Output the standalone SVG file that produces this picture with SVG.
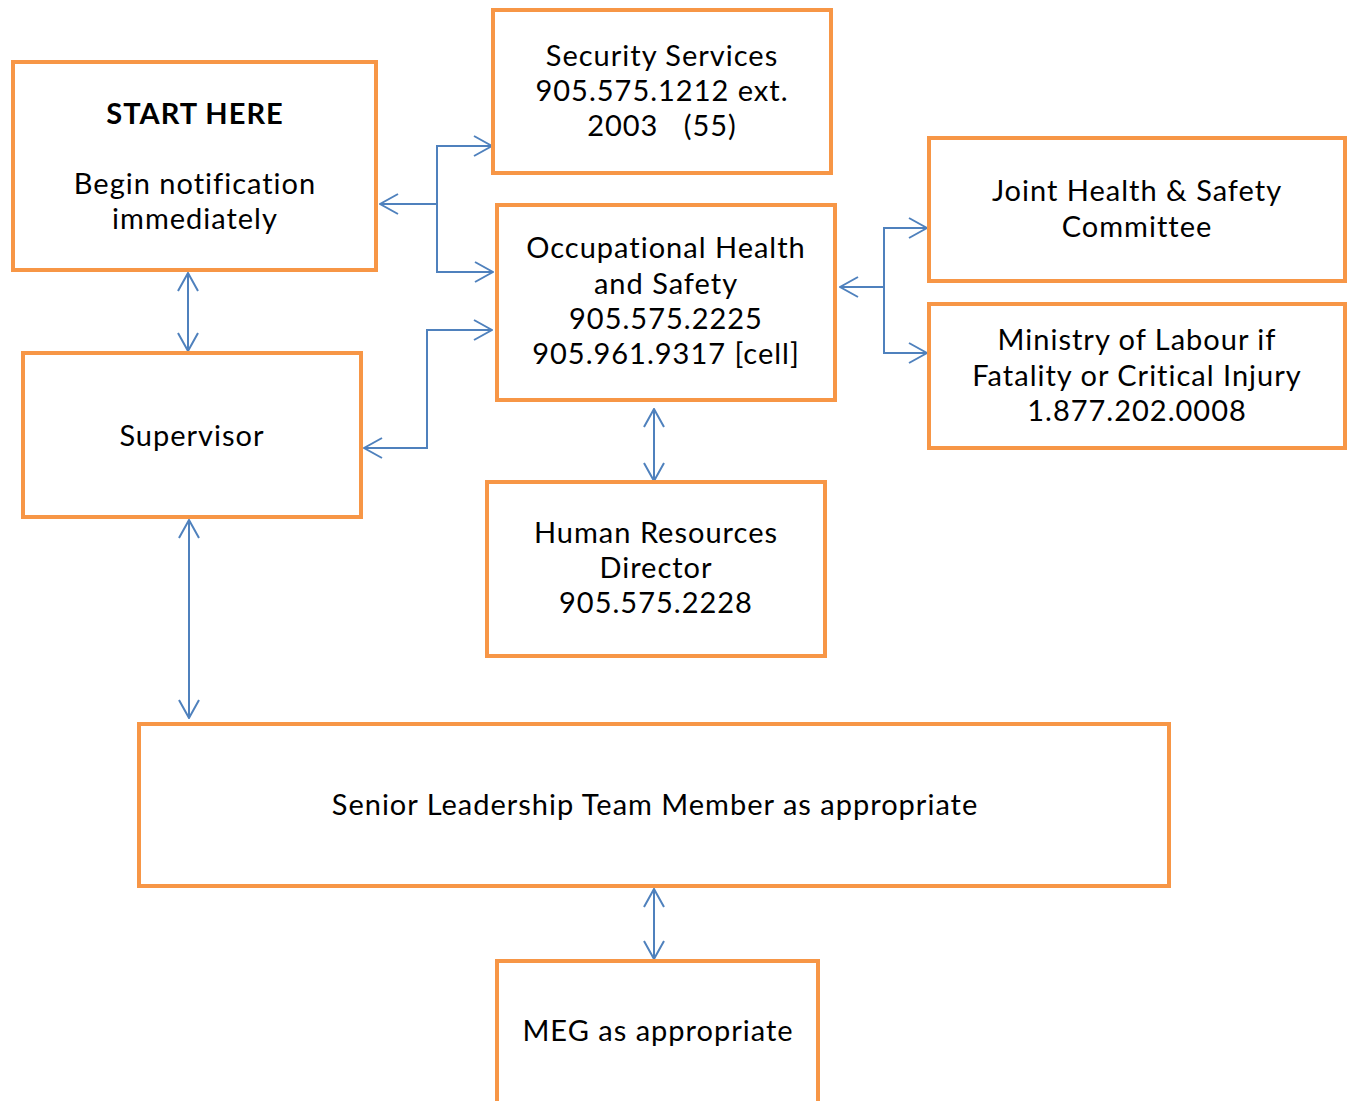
<svg xmlns="http://www.w3.org/2000/svg" width="1353" height="1101" viewBox="0 0 1353 1101">
<defs>
<style>
.box{fill:#fff;stroke:#F79646;stroke-width:4}
.t{font-family:Lato,"Noto Sans",sans-serif;font-size:29px;letter-spacing:1px;fill:#000;text-anchor:middle}
.b{font-weight:bold}
.c{fill:none;stroke:#4F81BD;stroke-width:2}
</style>
<marker id="a" viewBox="0 0 20 24" refX="19" refY="12" markerWidth="20" markerHeight="24" markerUnits="userSpaceOnUse" orient="auto-start-reverse">
<path d="M1,2 L19,12 L1,22" fill="none" stroke="#4F81BD" stroke-width="2"/>
</marker>
</defs>
<rect width="1353" height="1101" fill="#fff"/>
<g id="connectors">
<path class="c" d="M437,204 H380" marker-end="url(#a)"/>
<path class="c" d="M437,204 V146 H492" marker-end="url(#a)"/>
<path class="c" d="M437,204 V272 H493" marker-end="url(#a)"/>
<path class="c" d="M364,448 H427 V330 H492" marker-start="url(#a)" marker-end="url(#a)"/>
<path class="c" d="M884,287 H840" marker-end="url(#a)"/>
<path class="c" d="M884,287 V228 H927" marker-end="url(#a)"/>
<path class="c" d="M884,287 V353 H927" marker-end="url(#a)"/>
<path class="c" d="M188,273 V351" marker-start="url(#a)" marker-end="url(#a)"/>
<path class="c" d="M654,409 V481" marker-start="url(#a)" marker-end="url(#a)"/>
<path class="c" d="M189,520 V718" marker-start="url(#a)" marker-end="url(#a)"/>
<path class="c" d="M654,889 V959" marker-start="url(#a)" marker-end="url(#a)"/>
</g>
<g id="start">
<rect class="box" x="13" y="62" width="363" height="208"/>
<text class="t b" x="195" y="124">START HERE</text>
<text class="t" x="195" y="194">Begin notification</text>
<text class="t" x="195" y="229">immediately</text>
</g>
<g id="security">
<rect class="box" x="493" y="10" width="338" height="163"/>
<text class="t" x="662" y="66">Security Services</text>
<text class="t" x="662" y="101">905.575.1212 ext.</text>
<text class="t" x="662" y="136" xml:space="preserve">2003   (55)</text>
</g>
<g id="ohs">
<rect class="box" x="497" y="205" width="338" height="195"/>
<text class="t" x="666" y="258">Occupational Health</text>
<text class="t" x="666" y="294">and Safety</text>
<text class="t" x="666" y="329">905.575.2225</text>
<text class="t" x="666" y="364">905.961.9317 [cell]</text>
</g>
<g id="joint">
<rect class="box" x="929" y="138" width="416" height="143"/>
<text class="t" x="1137" y="201">Joint Health &amp; Safety</text>
<text class="t" x="1137" y="237">Committee</text>
</g>
<g id="ministry">
<rect class="box" x="929" y="304" width="416" height="144"/>
<text class="t" x="1137" y="350">Ministry of Labour if</text>
<text class="t" x="1137" y="386">Fatality or Critical Injury</text>
<text class="t" x="1137" y="421">1.877.202.0008</text>
</g>
<g id="supervisor">
<rect class="box" x="23" y="353" width="338" height="164"/>
<text class="t" x="192" y="446">Supervisor</text>
</g>
<g id="hr">
<rect class="box" x="487" y="482" width="338" height="174"/>
<text class="t" x="656" y="543">Human Resources</text>
<text class="t" x="656" y="578">Director</text>
<text class="t" x="656" y="613">905.575.2228</text>
</g>
<g id="senior">
<rect class="box" x="139" y="724" width="1030" height="162"/>
<text class="t" x="655" y="815">Senior Leadership Team Member as appropriate</text>
</g>
<g id="meg">
<rect class="box" x="497" y="961" width="321" height="160"/>
<text class="t" x="658" y="1041">MEG as appropriate</text>
</g>
</svg>
